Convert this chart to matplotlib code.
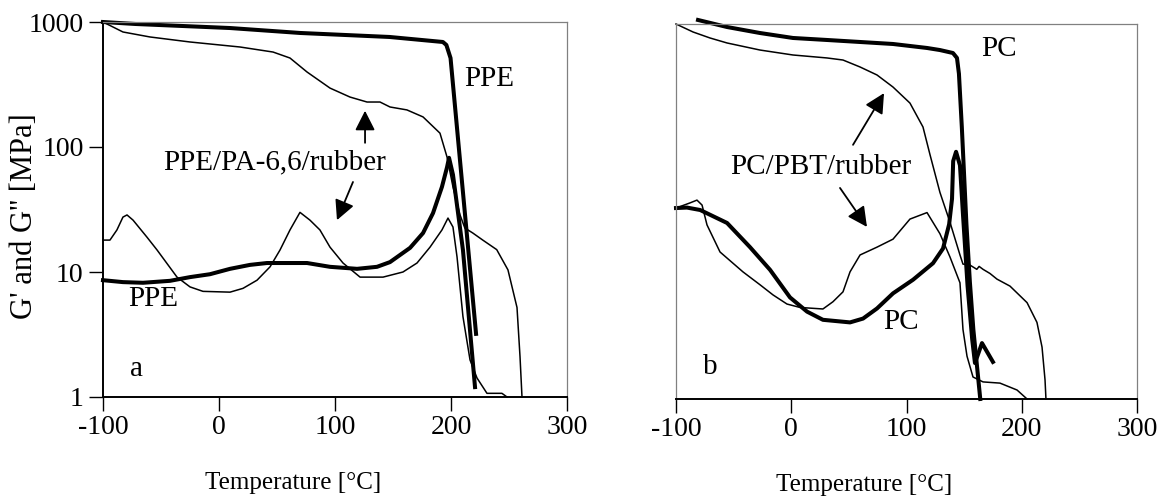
import matplotlib
matplotlib.use("Agg")
import matplotlib.pyplot as plt
from matplotlib.ticker import NullLocator

plt.rcParams['font.family'] = ['Liberation Serif', 'DejaVu Serif']

# --- panel a: PPE and PPE/PA-6,6/rubber ---
ppe_storage_T = [-100, -72, 9.5, 70, 147, 193, 196, 199.6, 221.6]
ppe_storage = [1000, 964, 895, 817, 759, 692, 655, 515, 3.2]

ppe_loss_T = [-100, -82.8, -65.5, -42.2, -25, -7.8, 9.5, 26.7, 41.4, 75.9, 95.7,
              119, 136.2, 147.4, 164.7, 175.9, 184.5, 192.2, 196.6, 198.3, 201.7,
              210.3, 220.7]
ppe_loss = [8.6, 8.3, 8.2, 8.5, 9.1, 9.6, 10.6, 11.4, 11.8, 11.8, 11.0,
            10.6, 11.0, 12.0, 15.6, 20.5, 29.6, 48, 69, 82, 60,
            15, 1.2]

blend_a_storage_T = [-100, -82.8, -59.5, -25, 18.1, 46.6, 61.2, 75.9, 95.7, 112.9,
                     127.6, 138.8, 147.4, 162, 175.9, 190.5, 196.6, 201.7, 207.8,
                     211.9, 218.8, 227.4, 239.4, 249.1, 256.9, 259.5, 261.2]
blend_a_storage = [1000, 832, 759, 692, 631, 575, 515, 398, 296, 251,
                   229, 229, 209, 198, 174, 129, 83, 48, 28.6,
                   22.5, 20.5, 18, 15.1, 10.4, 5.2, 2.1, 1.0]

blend_a_loss_T = [-100, -94, -88, -82.8, -79.3, -74.1, -62.1, -53.4, -36.2, -25,
                  -13.8, 9.5, 20.7, 32.8, 44, 52.6, 61.2, 69.8, 78.4, 87, 95.7,
                  106.9, 121.6, 141.4, 158.6, 170.7, 181.9, 192.2, 197.4, 201.7,
                  205.2, 210.3, 216.4, 222.4, 231, 243.9, 248.3]
blend_a_loss = [18, 18, 21.7, 27.5, 28.6, 26, 19, 15, 9.1, 7.6,
                7.0, 6.9, 7.4, 8.6, 11, 15, 21.7, 30, 26, 21.7, 15.8,
                11.8, 9.1, 9.1, 10, 11.8, 15.8, 21.7, 27, 22.9,
                13.2, 4.4, 1.98, 1.42, 1.07, 1.07, 1.0]

# --- panel b: PC and PC/PBT/rubber ---
pc_storage_T = [-80.9, -55.7, -27.1, 1.5, 31, 59.7, 88.3, 117.8, 129, 140.3,
                143.8, 145.5, 148, 152, 155, 158, 161, 164]
pc_storage = [1077, 946, 847, 773, 745, 718, 692, 643, 619, 586,
              535, 400, 150, 25, 8.6, 3.6, 1.9, 1.0]

pc_loss_T = [-100, -90.5, -79, -55.7, -35.8, -18.4, -1.1, 13.7, 27.5, 51, 62.3,
             74.4, 88.3, 105.7, 123, 131.7, 137, 139.5, 140.5, 143, 146.4, 149,
             153, 157, 159.4, 165.5, 175]
pc_loss = [33.7, 34, 32.5, 25.6, 16.4, 10.8, 6.5, 5.0, 4.3, 4.1, 4.4,
           5.3, 7.0, 9.0, 12.2, 16, 25, 40, 80, 95, 74, 30,
           8, 3, 1.94, 2.8, 1.98]

blend_b_storage_T = [-100, -85.2, -70.5, -55.7, -27.1, 1.5, 31, 44.9, 59.7, 74.4,
                     88.3, 103, 114.3, 120.4, 129, 137.7, 146.4, 149, 155, 161,
                     163, 166.4, 172.4, 178.5, 189.8, 204.6, 213.2, 217.6, 220.2, 221]
blend_b_storage = [1000, 863, 773, 705, 619, 565, 535, 515, 453, 391,
                   313, 233, 150, 90, 45, 26, 14.2, 12, 11.8, 10.9,
                   11.5, 10.9, 10.1, 9.1, 8.0, 5.9, 4.1, 2.6, 1.42, 1.0]

blend_b_loss_T = [-100, -88, -81.8, -77.4, -73.1, -61.8, -41.9, -27.1, -15.8, -3.7,
                  7.6, 27.5, 36.2, 44.9, 51, 59.7, 74.4, 88.3, 103, 117.8,
                  129, 137.7, 146.4, 149, 152.5, 157.7, 166.4, 181.1, 195.9, 204.6]
blend_b_loss = [33.7, 37, 39, 35.6, 24.7, 15, 10.4, 8.2, 6.8, 5.75,
                5.4, 5.25, 6.0, 7.2, 10.4, 14.2, 16.4, 19, 27.5, 31,
                21, 13.7, 8.5, 3.6, 2.2, 1.5, 1.37, 1.34, 1.18, 1.0]

x_ticks = [-100, 0, 100, 200, 300]
y_ticks = [1, 10, 100, 1000]
y_ticklabels = ["1", "10", "100", "1000"]

THICK = 2.9
THIN = 1.1
TICK_FS = 20
NOTE_FS = 21
GRAY = "#808080"

fig = plt.figure(figsize=(11.63, 4.99), dpi=100)
ax_a = fig.add_axes([103 / 1163, 1 - 397 / 499, 464 / 1163, 375 / 499])
ax_b = fig.add_axes([676 / 1163, 1 - 399 / 499, 461 / 1163, 375 / 499])


def style_axes(ax, show_y):
    ax.set_yscale("log")
    ax.set_xlim(-100, 300)
    ax.set_ylim(1, 1000)
    ax.set_xticks(x_ticks)
    ax.set_xticklabels([str(t) for t in x_ticks])
    ax.yaxis.set_minor_locator(NullLocator())
    ax.xaxis.set_minor_locator(NullLocator())
    ax.tick_params(axis="x", direction="out", length=10, width=1, pad=3,
                   labelsize=TICK_FS, color="black")
    for side in ("top", "right"):
        ax.spines[side].set_color(GRAY)
        ax.spines[side].set_linewidth(0.9)
    ax.spines["bottom"].set_color("black")
    ax.spines["bottom"].set_linewidth(1.4)
    ax.set_yticks(y_ticks)
    if show_y:
        ax.set_yticklabels(y_ticklabels)
        ax.tick_params(axis="y", direction="out", length=10, width=1, pad=4,
                       labelsize=TICK_FS)
        ax.spines["left"].set_color("black")
        ax.spines["left"].set_linewidth(1.4)
    else:
        ax.tick_params(axis="y", left=False, labelleft=False)
        ax.spines["left"].set_color(GRAY)
        ax.spines["left"].set_linewidth(0.9)
    ax.set_xlabel("Temperature [°C]", fontsize=18)


style_axes(ax_a, True)
style_axes(ax_b, False)
ax_a.xaxis.set_label_coords(0.41, -0.2)
ax_b.xaxis.set_label_coords(0.408, -0.2)
fig.text(25 / 1163, 1 - 216 / 499, "G' and G'' [MPa]", fontsize=22,
         rotation=90, ha="center", va="center")

arrow = dict(arrowstyle="-|>,head_length=0.75,head_width=0.38", color="black",
             lw=1.3, shrinkA=0, shrinkB=0, mutation_scale=16)

# panel a curves
ax_a.plot(ppe_storage_T, ppe_storage, color="black", lw=THICK, clip_on=False)
ax_a.plot(ppe_loss_T, ppe_loss, color="black", lw=THICK, clip_on=False)
ax_a.plot(blend_a_storage_T, blend_a_storage, color="black", lw=THIN, clip_on=False)
ax_a.plot(blend_a_loss_T, blend_a_loss, color="black", lw=THIN, clip_on=False)

ax_a.text(233, 350, "PPE", fontsize=NOTE_FS, ha="center", va="center")
ax_a.text(-57, 6.1, "PPE", fontsize=NOTE_FS, ha="center", va="center")
ax_a.text(-71, 1.67, "a", fontsize=NOTE_FS, ha="center", va="center")
ax_a.text(48, 76, "PPE/PA-6,6/rubber", fontsize=NOTE_FS, ha="center", va="center")
ax_a.annotate("", xy=(125.9, 195), xytext=(125.9, 108), arrowprops=arrow)
ax_a.annotate("", xy=(101.7, 26), xytext=(115.5, 52.5), arrowprops=arrow)

# panel b curves
ax_b.plot(pc_storage_T, pc_storage, color="black", lw=THICK, clip_on=False)
ax_b.plot(pc_loss_T, pc_loss, color="black", lw=THICK, clip_on=False)
ax_b.plot(blend_b_storage_T, blend_b_storage, color="black", lw=THIN, clip_on=False)
ax_b.plot(blend_b_loss_T, blend_b_loss, color="black", lw=THIN, clip_on=False)

ax_b.text(180, 630, "PC", fontsize=NOTE_FS, ha="center", va="center")
ax_b.text(95, 4.1, "PC", fontsize=NOTE_FS, ha="center", va="center")
ax_b.text(-70.5, 1.8, "b", fontsize=NOTE_FS, ha="center", va="center")
ax_b.text(25.8, 72, "PC/PBT/rubber", fontsize=NOTE_FS, ha="center", va="center")
ax_b.annotate("", xy=(80.5, 280), xytext=(53.6, 108), arrowprops=arrow)
ax_b.annotate("", xy=(65.7, 23.8), xytext=(42.3, 48.8), arrowprops=arrow)

fig.savefig("out.png", dpi=100)
